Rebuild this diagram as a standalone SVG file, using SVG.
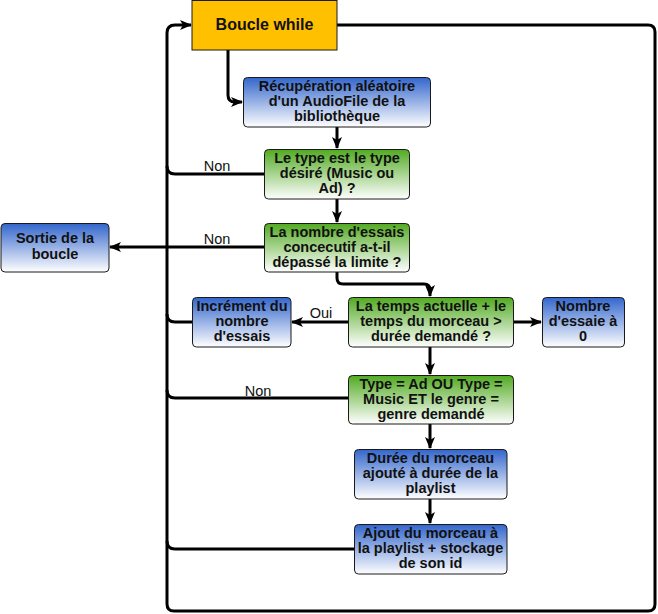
<svg xmlns="http://www.w3.org/2000/svg" width="658" height="614" viewBox="0 0 658 614">
<style>
.box{stroke:#1a1a1a;stroke-width:1}
.blue{fill:url(#gBlue)}
.green{fill:url(#gGreen)}
.t{font-family:"Liberation Sans",Arial,sans-serif;font-size:14.5px;font-weight:bold;fill:#111;text-anchor:middle}
.lbl{font-family:"Liberation Sans",Arial,sans-serif;font-size:14.5px;fill:#111;text-anchor:middle}
.edge{fill:none;stroke:#000;stroke-width:3;stroke-linejoin:round}
</style>
<defs>
<linearGradient id="gBlue" x1="0" y1="0" x2="0" y2="1">
<stop offset="0" stop-color="#3366CC"/>
<stop offset="1" stop-color="#FFFFFF"/>
</linearGradient>
<linearGradient id="gGreen" x1="0" y1="0" x2="0" y2="1">
<stop offset="0" stop-color="#52AA22"/>
<stop offset="1" stop-color="#FFFFFF"/>
</linearGradient>
<marker id="arr" markerUnits="userSpaceOnUse" markerWidth="12" markerHeight="12" viewBox="0 0 12 12" refX="11" refY="6" orient="auto">
<path d="M0,1 L12,6 L0,11 L3,6 z" fill="#000"/>
</marker>
</defs>

<g id="connectors">
<path class="edge" d="M337,25 H648 Q655,25 655,32 V604 Q655,611 648,611 H174 Q167,611 167,604 V33 Q167,25 175,25 H191" marker-end="url(#arr)"/>
<path class="edge" d="M228,50 V95 Q228,102 235,102 H242" marker-end="url(#arr)"/>
<path class="edge" d="M337,127 V148" marker-end="url(#arr)"/>
<path class="edge" d="M264,174 H175 Q167,174 167,166"/>
<path class="edge" d="M337,199 V222" marker-end="url(#arr)"/>
<path class="edge" d="M264,247 H110" marker-end="url(#arr)"/>
<path class="edge" d="M337,272 V278 Q337,284 343,284 H424 Q430,284 430,290 V296" marker-end="url(#arr)"/>
<path class="edge" d="M348,322 H292" marker-end="url(#arr)"/>
<path class="edge" d="M192,322 H175 Q167,322 167,314"/>
<path class="edge" d="M513,322 H541" marker-end="url(#arr)"/>
<path class="edge" d="M430,347 V374" marker-end="url(#arr)"/>
<path class="edge" d="M348,398 H175 Q167,398 167,390"/>
<path class="edge" d="M430,424 V448" marker-end="url(#arr)"/>
<path class="edge" d="M430,499 V523" marker-end="url(#arr)"/>
<path class="edge" d="M354,549 H175 Q167,549 167,541"/>
<text class="lbl" x="217" y="171">Non</text>
<text class="lbl" x="217" y="244">Non</text>
<text class="lbl" x="321" y="318">Oui</text>
<text class="lbl" x="258" y="396">Non</text>
</g>

<g id="boucle">
<rect x="192" y="0.5" width="145" height="49.5" fill="#FFC000" stroke="#1a1a1a" stroke-width="1"/>
<text x="264.5" y="30" font-family="'Liberation Sans',Arial,sans-serif" font-size="16" font-weight="bold" fill="#111" text-anchor="middle">Boucle while</text>
</g>

<g id="recuperation">
<rect class="box blue" x="243.5" y="77.5" width="187" height="49.5" rx="4"/>
<text class="t" x="337" y="91">Récupération aléatoire</text>
<text class="t" x="337" y="106">d'un AudioFile de la</text>
<text class="t" x="337" y="121">bibliothèque</text>
</g>

<g id="type-desire">
<rect class="box green" x="264.5" y="149.5" width="145" height="49.5" rx="4"/>
<text class="t" x="337" y="163">Le type est le type</text>
<text class="t" x="337" y="178">désiré (Music ou</text>
<text class="t" x="337" y="193">Ad) ?</text>
</g>

<g id="nombre-essais">
<rect class="box green" x="264.5" y="223.5" width="145" height="48.5" rx="4"/>
<text class="t" x="337" y="237">La nombre d'essais</text>
<text class="t" x="337" y="252">concecutif a-t-il</text>
<text class="t" x="337" y="267">dépassé la limite ?</text>
</g>

<g id="sortie">
<rect class="box blue" x="1" y="223.5" width="108" height="48.5" rx="4"/>
<text class="t" x="55" y="243">Sortie de la</text>
<text class="t" x="55" y="259">boucle</text>
</g>

<g id="temps">
<rect class="box green" x="348.5" y="297.5" width="165" height="49.5" rx="4"/>
<text class="t" x="431" y="311">La temps actuelle + le</text>
<text class="t" x="431" y="326">temps du morceau &gt;</text>
<text class="t" x="431" y="341">durée demandé ?</text>
</g>

<g id="increment">
<rect class="box blue" x="192.5" y="297.5" width="98.5" height="49.5" rx="4"/>
<text class="t" x="242" y="311">Incrément du</text>
<text class="t" x="242" y="326">nombre</text>
<text class="t" x="242" y="341">d'essais</text>
</g>

<g id="reset">
<rect class="box blue" x="542.5" y="297.5" width="82" height="49.5" rx="4"/>
<text class="t" x="583" y="311">Nombre</text>
<text class="t" x="583" y="326">d'essaie à</text>
<text class="t" x="583" y="341">0</text>
</g>

<g id="genre">
<rect class="box green" x="348.5" y="375.5" width="165" height="48.5" rx="4"/>
<text class="t" x="431" y="389">Type = Ad OU Type =</text>
<text class="t" x="431" y="404">Music ET le genre =</text>
<text class="t" x="431" y="419">genre demandé</text>
</g>

<g id="duree">
<rect class="box blue" x="354.5" y="449.5" width="152.5" height="49.5" rx="4"/>
<text class="t" x="430.5" y="463">Durée du morceau</text>
<text class="t" x="430.5" y="478">ajouté à durée de la</text>
<text class="t" x="430.5" y="493">playlist</text>
</g>

<g id="ajout">
<rect class="box blue" x="354.5" y="524.5" width="152.5" height="49.5" rx="4"/>
<text class="t" x="430.5" y="538">Ajout du morceau à</text>
<text class="t" x="430.5" y="553">la playlist + stockage</text>
<text class="t" x="430.5" y="568">de son id</text>
</g>
</svg>
